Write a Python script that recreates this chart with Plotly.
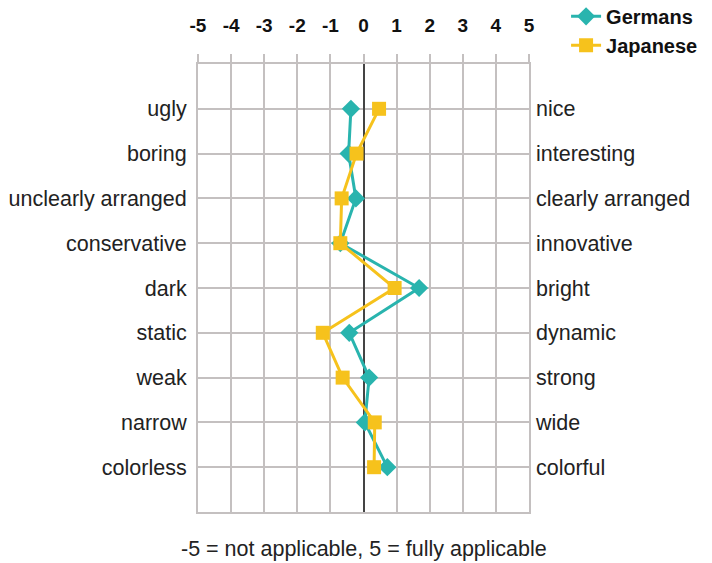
import plotly.graph_objects as go

left_labels = ["ugly", "boring", "unclearly arranged", "conservative", "dark",
               "static", "weak", "narrow", "colorless"]
right_labels = ["nice", "interesting", "clearly arranged", "innovative", "bright",
                "dynamic", "strong", "wide", "colorful"]
germans = [-0.38, -0.45, -0.23, -0.7, 1.68, -0.43, 0.17, 0.04, 0.72]
japanese = [0.47, -0.21, -0.66, -0.7, 0.94, -1.23, -0.63, 0.34, 0.32]
x_ticks = [-5, -4, -3, -2, -1, 0, 1, 2, 3, 4, 5]

pos = list(range(1, len(left_labels) + 1))
tickvals = list(range(0, len(left_labels) + 2))

TEAL = "#29b4ae"
YELLOW = "#f6c21c"
GRID = "#c4c0c0"
FONT = "Liberation Sans, Arial, sans-serif"

fig = go.Figure()
fig.add_trace(go.Scatter(
    x=germans, y=pos, name="<b>Germans</b>", mode="lines+markers",
    line=dict(color=TEAL, width=3),
    marker=dict(symbol="diamond", size=14, color=TEAL),
))
fig.add_trace(go.Scatter(
    x=japanese, y=pos, name="<b>Japanese</b>", mode="lines+markers",
    line=dict(color=YELLOW, width=3),
    marker=dict(symbol="square", size=14, color=YELLOW),
))
# invisible trace to anchor the right-hand axis
fig.add_trace(go.Scatter(x=[0], y=[1], yaxis="y2", showlegend=False,
                         mode="markers", marker=dict(opacity=0), hoverinfo="skip"))

fig.update_layout(
    width=712, height=563,
    margin=dict(l=198, r=183, t=64, b=51, autoexpand=False),
    paper_bgcolor="white", plot_bgcolor="white",
    font=dict(family=FONT, size=21.5, color="#222"),
    xaxis=dict(
        side="top", range=[-5, 5], tickvals=x_ticks,
        ticktext=[f"<b>{v}</b>" for v in x_ticks],
        tickfont=dict(size=19, color="#111"),
        showgrid=True, gridcolor=GRID, gridwidth=2,
        zeroline=True, zerolinecolor="#444", zerolinewidth=1.5,
        ticks="outside", ticklen=8, tickcolor=GRID, tickwidth=1.5,
        ticklabelstandoff=14,
        showline=True, linecolor=GRID, linewidth=2, mirror=True,
        automargin=False,
    ),
    yaxis=dict(
        range=[len(left_labels) + 1, 0], tickvals=tickvals,
        ticktext=[""] + left_labels + [""],
        showgrid=True, gridcolor=GRID, gridwidth=2,
        zeroline=False, ticks="",
        showline=True, linecolor=GRID, linewidth=2, mirror=True,
        ticklabelstandoff=5, automargin=False,
    ),
    yaxis2=dict(
        overlaying="y", side="right",
        range=[len(right_labels) + 1, 0], tickvals=tickvals,
        ticktext=[""] + right_labels + [""],
        showgrid=False, zeroline=False, ticks="", showline=False,
        ticklabelstandoff=6, automargin=False,
    ),
    legend=dict(
        x=1.112, y=1.15, xanchor="left", yanchor="top",
        font=dict(size=20, color="#111", family=FONT),
        itemwidth=30, tracegroupgap=0, bgcolor="rgba(0,0,0,0)",
    ),
    annotations=[dict(
        text="-5 = not applicable, 5 = fully applicable",
        xref="paper", yref="paper", x=0.5, y=-0.083,
        xanchor="center", yanchor="middle", showarrow=False,
        font=dict(size=21.5, color="#222"),
    )],
)

fig.write_html("out.html", config={"displayModeBar": False},
               post_script="document.body.style.margin='0px';")
